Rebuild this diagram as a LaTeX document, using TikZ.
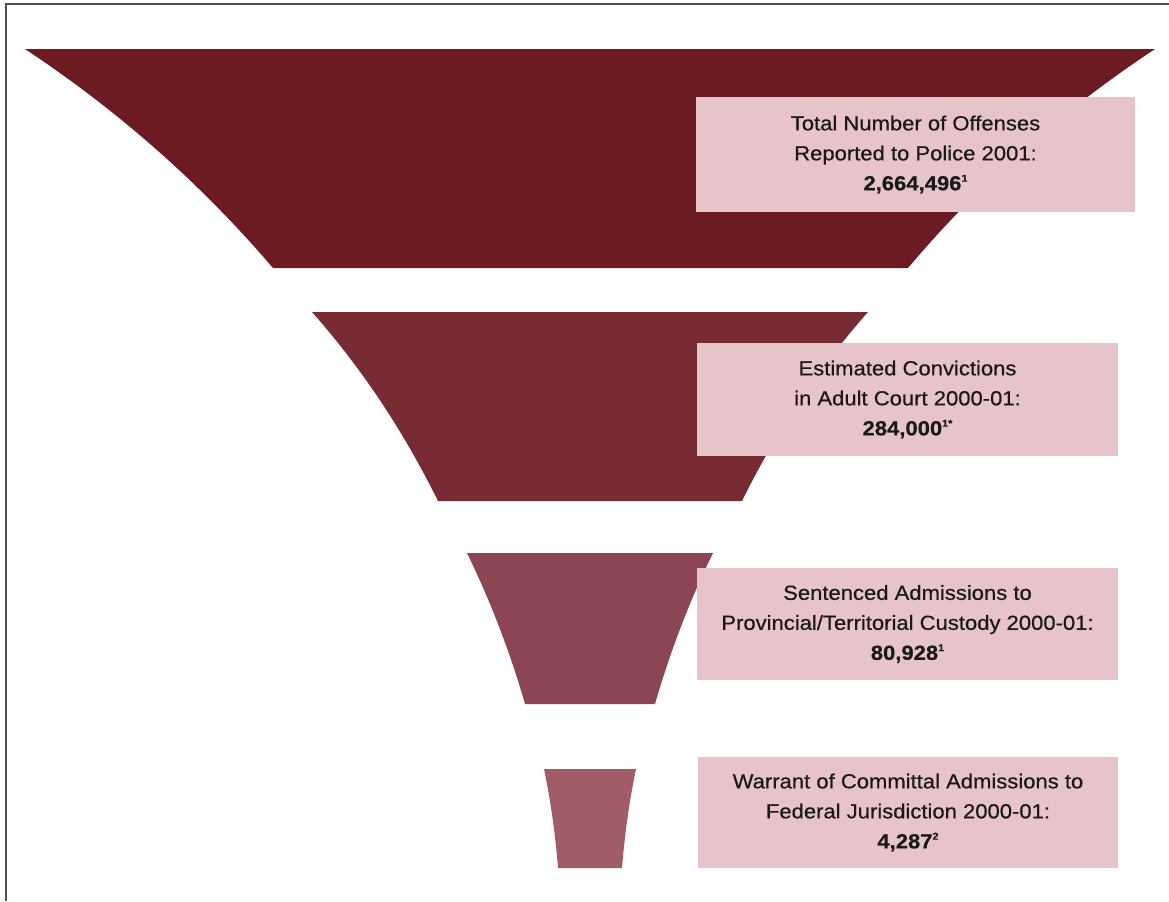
\documentclass[tikz,border=0pt]{standalone}
\usepackage{fontspec}
\setmainfont{Liberation Sans}[FakeStretch=1.08, UprightFeatures={FakeBold=0.5}, BoldFeatures={FakeBold=0.4}]
\usetikzlibrary{calc}

\definecolor{bandA}{HTML}{6C1B22}
\definecolor{bandB}{HTML}{792B34}
\definecolor{bandC}{HTML}{8C4552}
\definecolor{bandD}{HTML}{A05D68}
\definecolor{labelfill}{HTML}{E6C4CA}
\definecolor{framecol}{HTML}{5B4B4D}

\newcommand{\supmark}[1]{\raisebox{0.8ex}{\fontsize{5}{5}\selectfont #1}}

\tikzset{
  band/.style={draw=none},
  labelbox/.style={fill=labelfill, draw=none, inner sep=0pt, align=center,
    font=\fontsize{10.2}{15}\selectfont, text=black!90},
  frameline/.style={draw=framecol, line width=0.9pt},
}

\begin{document}
\begin{tikzpicture}[x=0.5pt, y=-0.5pt]
\useasboundingbox (0,0) rectangle (1169,901);
\fill[white] (0,0) rectangle (1169,901);

% outer frame (top and left rules)
\coordinate (fTL) at (6,4);
\coordinate (fTR) at (1169,4);
\coordinate (fBL) at (6,901);
\draw[frameline] (fTR) -- (fTL) -- (fBL);

% funnel band 1
\fill[band, bandA] (25,49) -- (1155,49)
  .. controls (1061.7,110.7) and (979,183.7) .. (908,268)
  -- (273,268)
  .. controls (201,183.7) and (118.3,110.7) .. (25,49) -- cycle;

% funnel band 2
\fill[band, bandB] (312,312) -- (868,312)
  .. controls (818.7,367.7) and (776.7,430.7) .. (742,501)
  -- (438,501)
  .. controls (403.3,430.7) and (361.3,367.7) .. (312,312) -- cycle;

% funnel band 3
\fill[band, bandC] (467,553) -- (713,553)
  .. controls (689.7,600.7) and (670.3,651) .. (655,704)
  -- (525,704)
  .. controls (509.7,651) and (490.3,600.7) .. (467,553) -- cycle;

% funnel band 4
\fill[band, bandD] (544,769) -- (636,769)
  .. controls (629.3,801.3) and (624.7,834.3) .. (622,868)
  -- (558,868)
  .. controls (555.3,834.3) and (550.7,801.3) .. (544,769) -- cycle;

% labels
\node[labelbox, minimum width=219.5pt, minimum height=57.5pt] (lab1) at (915.5,154.5)
  {Total Number of Offenses\\Reported to Police 2001:\\\textbf{2,664,496\supmark{1}}};
\node[labelbox, minimum width=210.5pt, minimum height=56.5pt] (lab2) at (907.5,399.5)
  {Estimated Convictions\\in Adult Court 2000-01:\\\textbf{284,000\supmark{1*}}};
\node[labelbox, minimum width=210.5pt, minimum height=56pt] (lab3) at (907.5,624)
  {Sentenced Admissions to\\Provincial/Territorial Custody 2000-01:\\\textbf{80,928\supmark{1}}};
\node[labelbox, minimum width=210pt, minimum height=55.5pt] (lab4) at (908,812.5)
  {Warrant of Committal Admissions to\\Federal Jurisdiction 2000-01:\\\textbf{4,287\supmark{2}}};
\end{tikzpicture}
\end{document}
